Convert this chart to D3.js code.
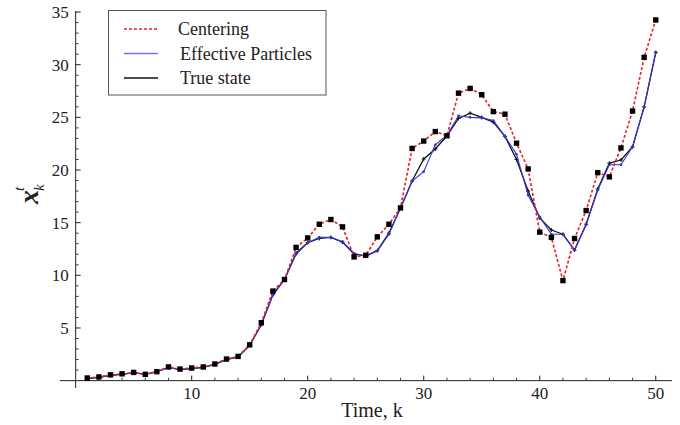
<!DOCTYPE html>
<html>
<head>
<meta charset="utf-8">
<script src="https://cdn.jsdelivr.net/npm/d3@7"></script>
<style>
  body { margin: 0; background: #fff; }
  svg { font-family: 'Liberation Serif', 'Times New Roman', serif; }
</style>
</head>
<body>
<svg width="680" height="425"></svg>
<script>
const steps = d3.range(1, 51);

const centering = [0.25, 0.35, 0.55, 0.65, 0.78, 0.6, 0.85, 1.3, 1.1, 1.2,
  1.3, 1.58, 2.05, 2.3, 3.4, 5.5, 8.5, 9.6, 12.65, 13.55,
  14.85, 15.3, 14.6, 11.75, 11.9, 13.65, 14.85, 16.4, 22.05, 22.75,
  23.65, 23.25, 27.3, 27.75, 27.15, 25.55, 25.3, 22.55, 20.1, 14.1,
  13.6, 9.5, 13.5, 16.15, 19.75, 19.35, 22.1, 25.6, 30.7, 34.25];

const effective = [0.2, 0.3, 0.5, 0.6, 0.75, 0.6, 0.85, 1.25, 1.05, 1.15,
  1.25, 1.55, 2.0, 2.25, 3.35, 5.3, 8.1, 9.6, 12.0, 13.1,
  13.6, 13.6, 13.2, 12.1, 11.8, 12.3, 13.9, 16.4, 18.95, 19.85,
  22.4, 23.3, 25.15, 25.0, 24.95, 24.7, 23.2, 21.5, 17.6, 15.55,
  13.9, 13.9, 12.4, 14.8, 18.1, 20.5, 20.5, 22.2, 26.0, 31.2];

const trueState = [0.2, 0.3, 0.5, 0.6, 0.75, 0.6, 0.85, 1.25, 1.05, 1.15,
  1.25, 1.55, 2.0, 2.25, 3.35, 5.3, 8.2, 9.6, 12.1, 13.1,
  13.5, 13.6, 13.15, 12.0, 11.85, 12.35, 14.0, 16.4, 18.95, 21.05,
  22.0, 23.25, 24.9, 25.4, 25.0, 24.55, 23.2, 21.0, 18.0, 15.45,
  14.3, 13.9, 12.4, 14.85, 18.2, 20.65, 20.95, 22.2, 26.0, 31.15];

const xMajor = [10, 20, 30, 40, 50];
const xMinor = [2, 4, 6, 8, 12, 14, 16, 18, 22, 24, 26, 28, 32, 34, 36, 38, 42, 44, 46, 48];
const yMajor = [5, 10, 15, 20, 25, 30, 35];
const yMinor = d3.range(1, 35).filter(v => v % 5 !== 0);

const legendItems = ['Centering', 'Effective Particles', 'True state'];

const svg = d3.select('svg');

const xScale = d3.scaleLinear().domain([-1.35, 51.4]).range([60, 672]);
const yScale = d3.scaleLinear().domain([-0.7, 35.1]).range([388, 11]);

const x0 = xScale(0);
const y0 = yScale(0);

// axes lines
svg.append('line')
  .attr('x1', xScale(-1.35)).attr('x2', xScale(51.4))
  .attr('y1', y0).attr('y2', y0)
  .attr('stroke', '#222').attr('stroke-width', 1);
svg.append('line')
  .attr('x1', x0).attr('x2', x0)
  .attr('y1', yScale(-0.7)).attr('y2', yScale(35.1))
  .attr('stroke', '#222').attr('stroke-width', 1);

// x ticks (inward, pointing up)
svg.selectAll('.xmaj').data(xMajor).enter().append('line')
  .attr('x1', d => xScale(d)).attr('x2', d => xScale(d))
  .attr('y1', y0).attr('y2', y0 - 5)
  .attr('stroke', '#222');
svg.selectAll('.xmin').data(xMinor).enter().append('line')
  .attr('x1', d => xScale(d)).attr('x2', d => xScale(d))
  .attr('y1', y0).attr('y2', y0 - 3)
  .attr('stroke', '#444');
svg.selectAll('.xlab').data(xMajor).enter().append('text')
  .attr('x', d => xScale(d))
  .attr('y', y0 + 18)
  .attr('text-anchor', 'middle')
  .attr('font-size', 17)
  .attr('fill', '#222')
  .text(d => d);

// y ticks (inward, pointing right)
svg.selectAll('.ymaj').data(yMajor).enter().append('line')
  .attr('x1', x0).attr('x2', x0 + 5)
  .attr('y1', d => yScale(d)).attr('y2', d => yScale(d))
  .attr('stroke', '#222');
svg.selectAll('.ymin').data(yMinor).enter().append('line')
  .attr('x1', x0).attr('x2', x0 + 3)
  .attr('y1', d => yScale(d)).attr('y2', d => yScale(d))
  .attr('stroke', '#444');
svg.selectAll('.ylab').data(yMajor).enter().append('text')
  .attr('x', x0 - 7)
  .attr('y', d => yScale(d) + 6)
  .attr('text-anchor', 'end')
  .attr('font-size', 17)
  .attr('fill', '#222')
  .text(d => d);

// axis titles
svg.append('text')
  .attr('x', 372).attr('y', 417)
  .attr('text-anchor', 'middle')
  .attr('font-size', 20)
  .attr('fill', '#222')
  .text('Time, k');

const yl = svg.append('g').attr('transform', 'translate(38,204) rotate(-90)');
yl.append('text').attr('x', 0).attr('y', 0)
  .attr('font-size', 28).attr('font-style', 'italic').attr('font-weight', 'bold')
  .attr('fill', '#222').text('x');
yl.append('text').attr('x', 13).attr('y', -14)
  .attr('font-size', 15).attr('font-style', 'italic').attr('fill', '#222').text('t');
yl.append('text').attr('x', 13).attr('y', 6)
  .attr('font-size', 15).attr('font-style', 'italic').attr('fill', '#222').text('k');

// series
const line = vals => d3.line()
  .x((d, i) => xScale(steps[i]))
  .y(d => yScale(d))(vals);

svg.append('path')
  .attr('d', line(trueState))
  .attr('fill', 'none')
  .attr('stroke', '#111')
  .attr('stroke-width', 1.3);

svg.selectAll('.ts').data(trueState).enter().append('path')
  .attr('d', (d, i) => {
    const cx = xScale(steps[i]), cy = yScale(d);
    return `M${cx - 2},${cy}H${cx + 2}M${cx},${cy - 2}V${cy + 2}`;
  })
  .attr('stroke', '#111')
  .attr('stroke-width', 1);

svg.append('path')
  .attr('d', line(effective))
  .attr('fill', 'none')
  .attr('stroke', '#3434d4')
  .attr('stroke-width', 1.1);

svg.selectAll('.ep').data(effective).enter().append('circle')
  .attr('cx', (d, i) => xScale(steps[i]))
  .attr('cy', d => yScale(d))
  .attr('r', 1.3)
  .attr('fill', '#3030c8');

svg.append('path')
  .attr('d', line(centering))
  .attr('fill', 'none')
  .attr('stroke', '#e8202a')
  .attr('stroke-width', 1.6)
  .attr('stroke-dasharray', '3,2');

svg.selectAll('.cm').data(centering).enter().append('rect')
  .attr('x', (d, i) => xScale(steps[i]) - 2.7)
  .attr('y', d => yScale(d) - 2.7)
  .attr('width', 5.4)
  .attr('height', 5.4)
  .attr('fill', '#000');

// legend
const lg = svg.append('g');
lg.append('rect')
  .attr('x', 108.5).attr('y', 10.5)
  .attr('width', 217.5).attr('height', 84.5)
  .attr('fill', '#fff')
  .attr('stroke', '#555')
  .attr('stroke-width', 1);

const legendStyles = [
  { stroke: '#e8202a', dash: '3,2', width: 1.6 },
  { stroke: '#7070f0', dash: null, width: 1.3 },
  { stroke: '#111', dash: null, width: 1.5 }
];

legendItems.forEach((name, i) => {
  const ly = 29 + i * 24.5;
  lg.append('line')
    .attr('x1', 124).attr('x2', 158)
    .attr('y1', ly).attr('y2', ly)
    .attr('stroke', legendStyles[i].stroke)
    .attr('stroke-width', legendStyles[i].width)
    .attr('stroke-dasharray', legendStyles[i].dash);
  lg.append('text')
    .attr('x', i === 0 ? 178 : 180)
    .attr('y', ly + 6)
    .attr('font-size', 18)
    .attr('fill', '#222')
    .text(name);
});
</script>
</body>
</html>
